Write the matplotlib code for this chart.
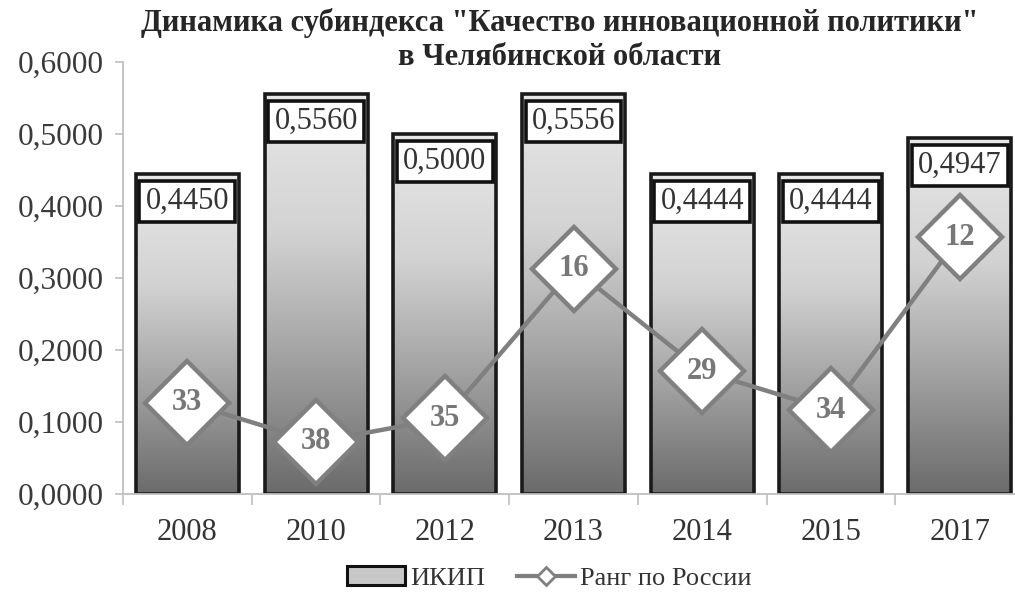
import numpy as np
import matplotlib
matplotlib.use("Agg")
import matplotlib.pyplot as plt
from matplotlib.colors import LinearSegmentedColormap
from matplotlib.lines import Line2D
from matplotlib.patches import Rectangle
from matplotlib.ticker import FuncFormatter, FixedLocator

years = ["2008", "2010", "2012", "2013", "2014", "2015", "2017"]
ikip = [0.4450, 0.5560, 0.5000, 0.5556, 0.4444, 0.4444, 0.4947]
ikip_labels = ["0,4450", "0,5560", "0,5000", "0,5556", "0,4444", "0,4444", "0,4947"]
rank = [33, 38, 35, 16, 29, 34, 12]
title = 'Динамика субиндекса "Качество инновационной политики"\nв Челябинской области'
legend_labels = ["ИКИП", "Ранг по России"]

plt.rcParams['font.family'] = ['Liberation Serif', 'DejaVu Serif']

fig = plt.figure(figsize=(10.15, 5.95), dpi=100)
ax = fig.add_axes([123/1015, 1-494/595, (1024-123)/1015, (494-62)/595])

x = np.arange(len(years))
w = 0.8
cmap = LinearSegmentedColormap.from_list(
    "g", [(0.0, "#6b6b6b"), (0.35, "#a4a4a4"), (0.65, "#d2d2d2"), (1.0, "#e8e8e8")])
grad = np.linspace(0, 1, 256).reshape(-1, 1)
for xi, v in zip(x, ikip):
    ax.imshow(grad, extent=(xi - w/2, xi + w/2, 0, v), aspect='auto',
              cmap=cmap, origin='lower', zorder=1, interpolation='bicubic')
ax.bar(x, ikip, width=w, facecolor='none', edgecolor='#1a1a1a', linewidth=2.6, zorder=2)

for xi, v, lab in zip(x, ikip, ikip_labels):
    ax.annotate(lab, (xi, v), xytext=(0, -20), textcoords='offset points',
                ha='center', va='center', fontsize=22, color='#333333', zorder=5,
                bbox=dict(boxstyle='square,pad=0.2', facecolor='white',
                          edgecolor='#111111', linewidth=2.6))

ax.set_xlim(-0.5, len(years) - 0.5)
ax.set_ylim(0, 0.6)
ax.set_yticks(np.arange(0, 0.61, 0.1))
ax.yaxis.set_major_formatter(FuncFormatter(lambda v, p: f"{v:.4f}".replace('.', ',')))
ax.set_xticks(x)
ax.set_xticklabels(years)
ax.xaxis.set_minor_locator(FixedLocator(np.arange(-0.5, len(years), 1.0)))
ax.tick_params(axis='x', which='major', length=0, pad=17, labelsize=22, labelcolor='#333333')
ax.tick_params(axis='x', which='minor', length=8, width=1.2, color='#bfbfbf')
ax.tick_params(axis='y', length=6, width=1.2, color='#bfbfbf', labelsize=22.5,
               labelcolor='#3a3a3a', pad=8)
for s in ['top', 'right']:
    ax.spines[s].set_visible(False)
for s in ['left', 'bottom']:
    ax.spines[s].set_color('#bfbfbf')
    ax.spines[s].set_linewidth(1.3)

ax2 = ax.twinx()
ax2.plot(x, rank, color='#808080', linewidth=3.2, marker='D', markersize=43,
         markerfacecolor='white', markeredgecolor='#808080', markeredgewidth=3.2, zorder=3)
for xi, r in zip(x, rank):
    ax2.text(xi, r, str(r), ha='center', va='center', fontsize=22, fontweight='bold',
             color='#777777', zorder=4)
ax2.set_ylim(44.6, -10.2)
ax2.set_axis_off()

fig.text(560/1015, 1-40/595, title, ha='center', va='center', fontsize=22,
         fontweight='bold', color='#262626', linespacing=1.2)

h1 = Rectangle((0, 0), 1, 1, facecolor='#c8c8c8', edgecolor='#111111', linewidth=2.2)
h2 = Line2D([], [], color='#808080', linewidth=3, marker='D', markersize=9,
            markerfacecolor='white', markeredgecolor='#808080', markeredgewidth=2)
fig.legend([h1, h2], legend_labels, loc='center', bbox_to_anchor=(549/1015, 1-578/595),
           ncol=2, frameon=False, fontsize=19, handlelength=2.2, handletextpad=0.2,
           columnspacing=1.2, labelcolor='#333333')

fig.savefig("out.png", dpi=100)
